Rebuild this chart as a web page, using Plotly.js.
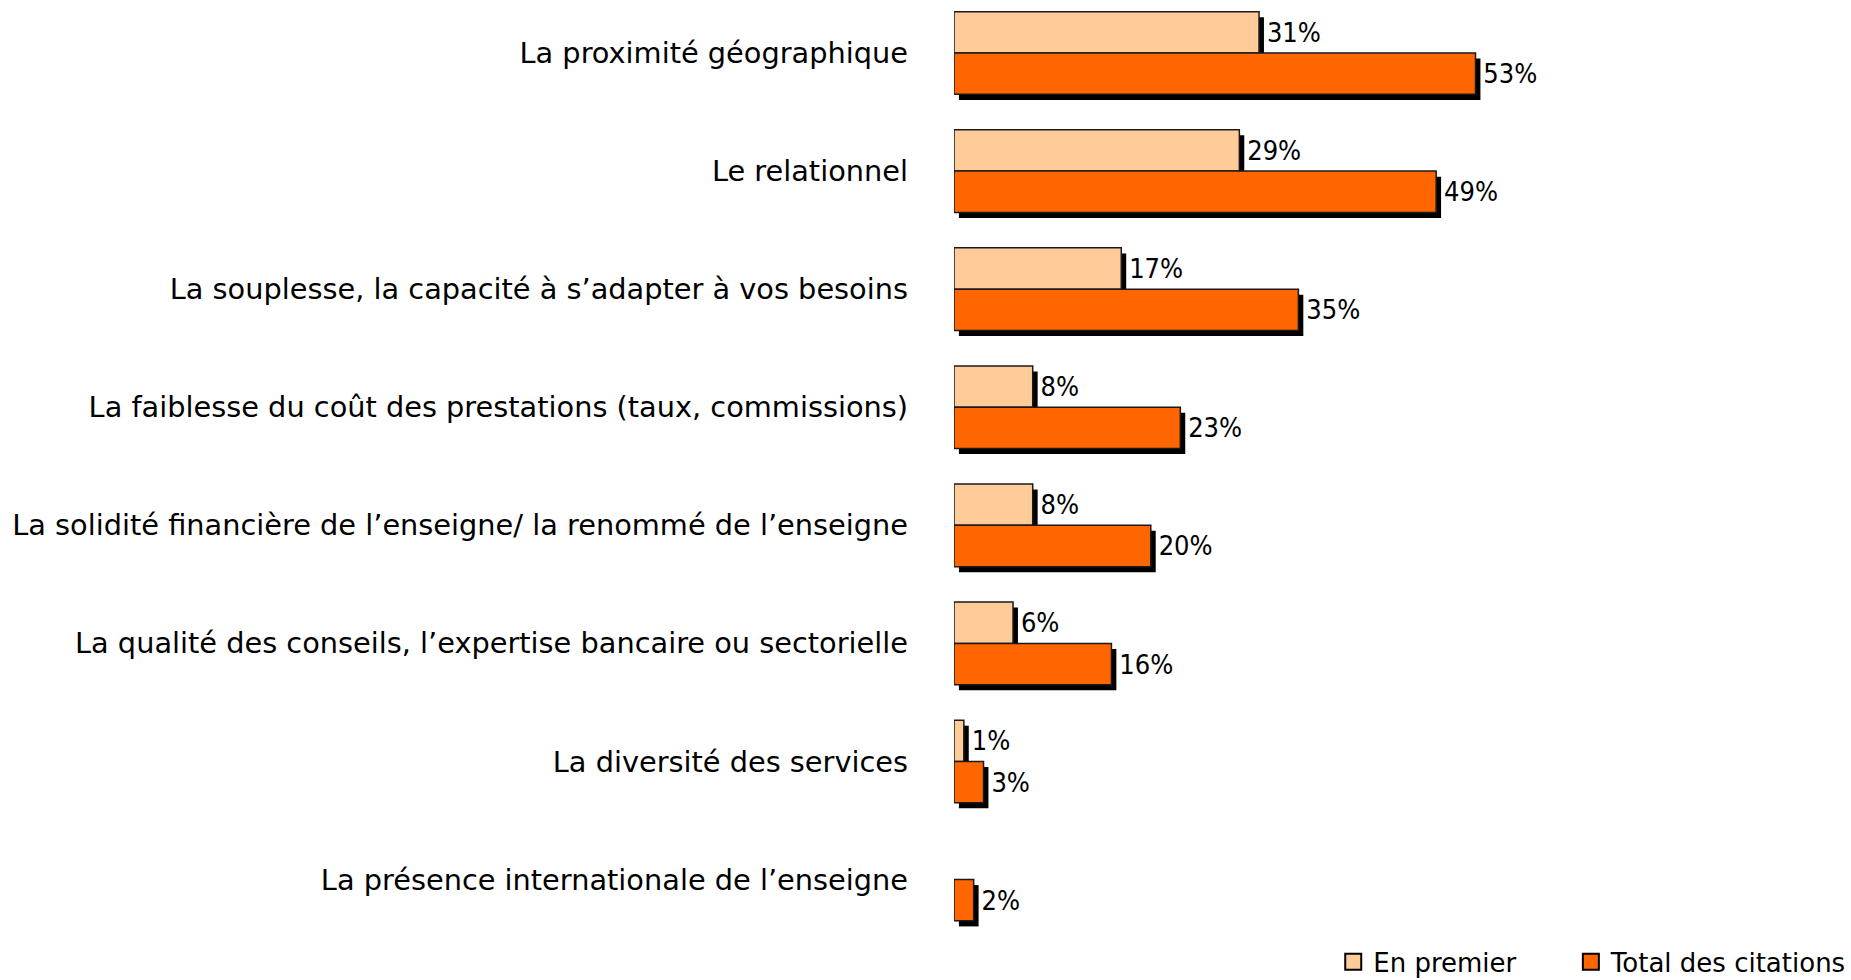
<!DOCTYPE html>
<html><head><meta charset="utf-8">
<script src="https://cdn.plot.ly/plotly-3.0.1.min.js"></script>
<style>
html,body{margin:0;padding:0;background:#fff}
#chart{width:1851px;height:980px}
#chart .legend .legendpoints path{d:path("M8,8H-8V-8H8Z"); stroke:#000 !important; stroke-width:2px !important;}
</style>
</head><body><div id="chart"></div>
<script>
const categories = [
  "La proximité géographique",
  "Le relationnel",
  "La souplesse, la capacité à s’adapter à vos besoins",
  "La faiblesse du coût des prestations (taux, commissions)",
  "La solidité financière de l’enseigne/ la renommé de l’enseigne",
  "La qualité des conseils, l’expertise bancaire ou sectorielle",
  "La diversité des services",
  "La présence internationale de l’enseigne"
];
const enPremier = [31, 29, 17, 8, 8, 6, 1, null];
const totalCitations = [53, 49, 35, 23, 20, 16, 3, 2];
const seriesNames = ["En premier", "Total des citations"];

const FONT = "DejaVu Sans, sans-serif";
const FONT_NUM = "DejaVu Sans Condensed, DejaVu Sans, sans-serif";
const W = 0.35, DY = 0.047, DX = 0.5;
const outline = {color: "#1a1a1a", width: 1.5};
const PAD = "\u00A0\u00A0\u00A0\u00A0\u00A0\u00A0";

function shadow(vals, off) {
  return {type: "bar", orientation: "h", y: categories, x: vals, base: DX,
    width: W, offset: off + DY, marker: {color: "#000", line: {width: 0}},
    showlegend: false, hoverinfo: "skip"};
}
const traces = [
  shadow(enPremier, -W),
  shadow(totalCitations, 0),
  {type: "bar", orientation: "h", name: seriesNames[0] + PAD, y: categories, x: enPremier,
   width: W, offset: -W, marker: {color: "#FFCC99", line: outline},
   texttemplate: "\u2009%{x}%", textposition: "outside", cliponaxis: false,
   textfont: {family: FONT_NUM, size: 27, color: "#000"}},
  {type: "bar", orientation: "h", name: seriesNames[1], y: categories, x: totalCitations,
   width: W, offset: 0, marker: {color: "#FF6600", line: outline},
   texttemplate: "\u2009%{x}%", textposition: "outside", cliponaxis: false,
   textfont: {family: FONT_NUM, size: 27, color: "#000"}}
];
const layout = {
  width: 1851, height: 980,
  margin: {l: 954, r: 6, t: 0, b: 36, autoexpand: false},
  paper_bgcolor: "#fff", plot_bgcolor: "#fff",
  barmode: "overlay",
  showlegend: true,
  legend: {orientation: "h", x: 1.007, xanchor: "right", y: -0.019, yanchor: "middle",
    font: {family: FONT, size: 26, color: "#000"}, itemwidth: 30,
    traceorder: "normal"},
  xaxis: {range: [0, 90.55], showgrid: false, zeroline: false, showline: false,
    showticklabels: false, ticks: ""},
  yaxis: {type: "category", range: [7.546, -0.449], showgrid: false, zeroline: false,
    showline: false, ticks: "", ticklabelstandoff: 45,
    tickfont: {family: FONT, size: 28.8, color: "#000"}},
  font: {family: FONT}
};
Plotly.newPlot("chart", traces, layout, {displayModeBar: false, staticPlot: true});
</script></body></html>
